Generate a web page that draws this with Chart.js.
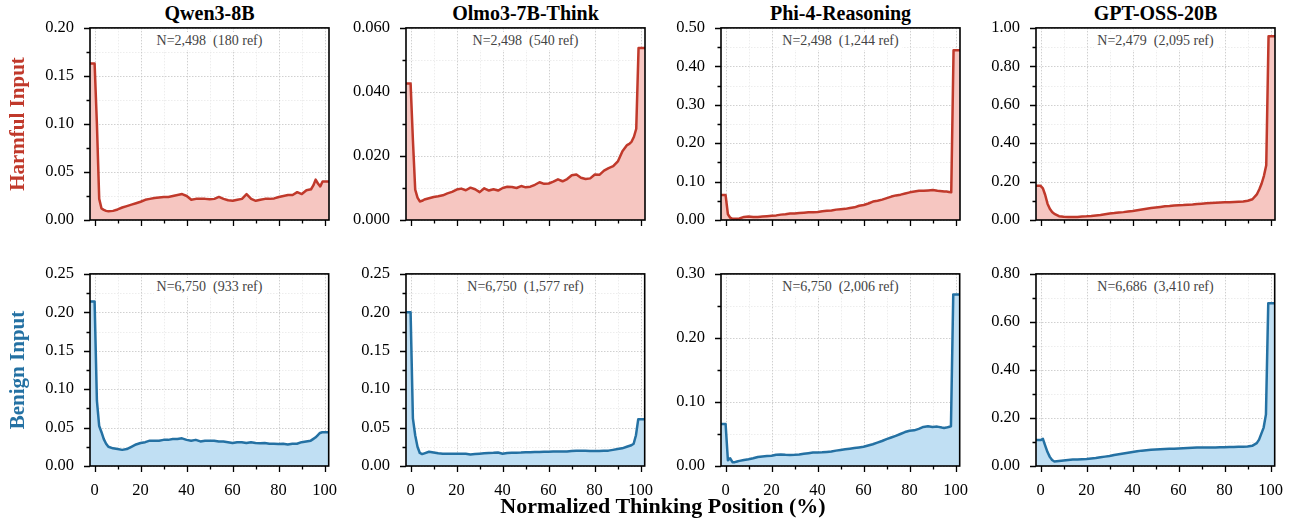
<!DOCTYPE html>
<html>
<head>
<meta charset="utf-8">
<script src="https://cdn.jsdelivr.net/npm/chart.js@4.4.1/dist/chart.umd.min.js"></script>
<style>
    body { margin: 0; width: 1290px; height: 520px; background: #fff; position: relative; overflow: hidden; font-family: "Liberation Serif", "DejaVu Serif", serif; }
    canvas { position: absolute; }
    .col-title { position: absolute; width: 239px; text-align: center; font-weight: bold; font-size: 20px; line-height: 24px; color: #000; }
    .row-label { position: absolute; font-weight: bold; font-size: 21px; white-space: nowrap; transform: translate(-50%, -50%) rotate(-90deg); }
    .note { position: absolute; width: 239px; text-align: center; font-size: 14px; line-height: 16px; color: #444; white-space: pre; }
    .note span { background: #fff; padding: 1px 3px 2px 3px; }
    .x-title { position: absolute; left: 0; width: 1326px; text-align: center; font-weight: bold; font-size: 22px; top: 493px; }
</style>
</head>
<body>
<script>
// 模型與標籤
const models = ['Qwen3-8B', 'Olmo3-7B-Think', 'Phi-4-Reasoning', 'GPT-OSS-20B'];
const rowLabels = ['Harmful Input', 'Benign Input'];
const harmfulNotes = ['N=2,498  (180 ref)', 'N=2,498  (540 ref)', 'N=2,498  (1,244 ref)', 'N=2,479  (2,095 ref)'];
const benignNotes = ['N=6,750  (933 ref)', 'N=6,750  (1,577 ref)', 'N=6,750  (2,006 ref)', 'N=6,686  (3,410 ref)'];
const xTitle = 'Normalized Thinking Position (%)';

// 位置 (%)
const positions = [-2, 0, 1, 2, 3, 4, 5, 6,
    8, 10, 12, 14, 16, 18, 20, 22, 24, 26, 28, 30, 32, 34, 36, 38,
    40, 42, 44, 46, 48, 50, 52, 54, 56, 58, 60, 62, 64, 66, 68, 70,
    72, 74, 76, 78, 80, 82, 84, 86, 88, 90, 92, 94,
    95, 96, 97, 98, 99, 100, 102];

// Harmful 數據
const qwenHarmful = [0.163, 0.163, 0.100, 0.022, 0.012, 0.0105, 0.0095, 0.009,
    0.0095, 0.011, 0.013, 0.0145, 0.016, 0.0175, 0.019, 0.021, 0.022, 0.023, 0.0235, 0.024, 0.024, 0.025, 0.026, 0.027,
    0.025, 0.021, 0.022, 0.022, 0.022, 0.0215, 0.022, 0.024, 0.022, 0.0205, 0.020, 0.021, 0.022, 0.027, 0.022, 0.020,
    0.021, 0.022, 0.022, 0.0225, 0.024, 0.025, 0.026, 0.026, 0.029, 0.027, 0.031, 0.032,
    0.036, 0.042, 0.038, 0.035, 0.040, 0.040, 0.040];
const olmoHarmful = [0.0426, 0.0426, 0.025, 0.0095, 0.0070, 0.0058, 0.0060, 0.0064,
    0.0068, 0.0072, 0.0074, 0.0077, 0.0083, 0.0088, 0.0095, 0.0098, 0.0093, 0.0101, 0.0096, 0.0087, 0.0099, 0.0092, 0.0096, 0.0092,
    0.0100, 0.0104, 0.0103, 0.0100, 0.0106, 0.0102, 0.0104, 0.0110, 0.0118, 0.0113, 0.0114, 0.0120, 0.0127, 0.0121, 0.0128, 0.0140,
    0.0142, 0.0132, 0.0128, 0.0130, 0.0142, 0.0141, 0.0154, 0.0162, 0.0168, 0.0183, 0.0215, 0.0234,
    0.0238, 0.0245, 0.0260, 0.0285, 0.0537, 0.0537, 0.0537];
const phiHarmful = [0.065, 0.065, 0.015, 0.006, 0.003, 0.003, 0.003, 0.004,
    0.008, 0.009, 0.008, 0.008, 0.009, 0.010, 0.011, 0.012, 0.014, 0.015, 0.017, 0.017, 0.018, 0.019, 0.020, 0.020,
    0.021, 0.023, 0.024, 0.025, 0.027, 0.028, 0.029, 0.031, 0.033, 0.037, 0.039, 0.043, 0.048, 0.050, 0.053, 0.057,
    0.061, 0.064, 0.066, 0.069, 0.072, 0.074, 0.076, 0.076, 0.077, 0.078, 0.076, 0.075,
    0.074, 0.074, 0.073, 0.072, 0.442, 0.442, 0.442];
const gptHarmful = [0.178, 0.178, 0.165, 0.130, 0.085, 0.058, 0.042, 0.032,
    0.020, 0.017, 0.015, 0.015, 0.016, 0.018, 0.019, 0.021, 0.024, 0.026, 0.030, 0.034, 0.036, 0.039, 0.041, 0.044,
    0.047, 0.051, 0.055, 0.059, 0.062, 0.065, 0.068, 0.071, 0.073, 0.076, 0.077, 0.078, 0.080, 0.081, 0.083, 0.085,
    0.087, 0.089, 0.090, 0.091, 0.092, 0.093, 0.094, 0.095, 0.096, 0.100, 0.108, 0.135,
    0.160, 0.190, 0.230, 0.285, 0.957, 0.957, 0.957];

// Benign 數據
const qwenBenign = [0.214, 0.214, 0.085, 0.052, 0.044, 0.035, 0.029, 0.025,
    0.023, 0.022, 0.021, 0.022, 0.025, 0.028, 0.030, 0.031, 0.033, 0.033, 0.033, 0.034, 0.034, 0.035, 0.035, 0.036,
    0.034, 0.033, 0.034, 0.032, 0.033, 0.033, 0.033, 0.032, 0.032, 0.031, 0.030, 0.031, 0.031, 0.030, 0.031, 0.030,
    0.0295, 0.030, 0.029, 0.029, 0.0285, 0.029, 0.028, 0.029, 0.029, 0.031, 0.032, 0.033,
    0.035, 0.037, 0.040, 0.043, 0.044, 0.044, 0.044];
const olmoBenign = [0.200, 0.200, 0.062, 0.040, 0.025, 0.017, 0.0155, 0.0165,
    0.0185, 0.0175, 0.0165, 0.016, 0.0158, 0.016, 0.0158, 0.016, 0.0158, 0.015, 0.0155, 0.016, 0.0165, 0.017, 0.0172, 0.0176,
    0.016, 0.017, 0.0172, 0.0174, 0.0175, 0.0178, 0.018, 0.0182, 0.0183, 0.0185, 0.0187, 0.0188, 0.019, 0.019, 0.019, 0.0195,
    0.020, 0.020, 0.0198, 0.0195, 0.0195, 0.0195, 0.0197, 0.020, 0.021, 0.022, 0.023, 0.025,
    0.026, 0.027, 0.029, 0.040, 0.061, 0.061, 0.061];
const phiBenign = [0.0656, 0.0656, 0.009, 0.012, 0.006, 0.006, 0.007, 0.008,
    0.0095, 0.0105, 0.012, 0.014, 0.015, 0.0156, 0.016, 0.0175, 0.018, 0.0175, 0.0172, 0.0175, 0.018, 0.019, 0.020, 0.021,
    0.021, 0.0213, 0.022, 0.0225, 0.024, 0.025, 0.026, 0.027, 0.028, 0.029, 0.030, 0.032, 0.034, 0.0365, 0.039, 0.042,
    0.0445, 0.047, 0.050, 0.053, 0.055, 0.0557, 0.058, 0.061, 0.062, 0.061, 0.0615, 0.060,
    0.0595, 0.060, 0.061, 0.062, 0.268, 0.268, 0.268];
const gptBenign = [0.108, 0.108, 0.113, 0.085, 0.058, 0.038, 0.025, 0.019,
    0.021, 0.023, 0.025, 0.027, 0.027, 0.028, 0.029, 0.031, 0.033, 0.036, 0.039, 0.042, 0.046, 0.049, 0.052, 0.055,
    0.058, 0.061, 0.064, 0.066, 0.068, 0.069, 0.070, 0.071, 0.072, 0.072, 0.073, 0.074, 0.075, 0.076, 0.077, 0.077,
    0.077, 0.077, 0.077, 0.078, 0.078, 0.079, 0.079, 0.080, 0.080, 0.081, 0.084, 0.095,
    0.110, 0.135, 0.160, 0.215, 0.678, 0.678, 0.678];

// 刻度
const xTicks = [0, 20, 40, 60, 80, 100];
const xMinorTicks = [10, 30, 50, 70, 90];
const harmfulYTicks = [
    ['0.00', '0.05', '0.10', '0.15', '0.20'],
    ['0.000', '0.020', '0.040', '0.060'],
    ['0.00', '0.10', '0.20', '0.30', '0.40', '0.50'],
    ['0.00', '0.20', '0.40', '0.60', '0.80', '1.00']
];
const benignYTicks = [
    ['0.00', '0.05', '0.10', '0.15', '0.20', '0.25'],
    ['0.00', '0.05', '0.10', '0.15', '0.20', '0.25'],
    ['0.00', '0.10', '0.20', '0.30'],
    ['0.00', '0.20', '0.40', '0.60', '0.80']
];

const harmfulSeries = [qwenHarmful, olmoHarmful, phiHarmful, gptHarmful];
const benignSeries = [qwenBenign, olmoBenign, phiBenign, gptBenign];

// 版面
const colLeft = [90, 406, 721, 1036];
const rowTop = [28, 274];
const plotW = 239, plotH = 192;
const FONT = '"Liberation Serif", "DejaVu Serif", serif';
const rowStyles = [
    { line: '#c0392b', fill: '#f6c6c1' },
    { line: '#2471a3', fill: '#c0dff3' }
];

// 框線、網格、刻度線
const framePlugin = {
    id: 'frame',
    beforeDatasetsDraw(chart, args, opts) {
        const { ctx, chartArea: a, scales: { x, y } } = chart;
        ctx.save();
        ctx.lineWidth = 0.8;
        ctx.setLineDash([1.5, 1.5]);
        const vline = (v, c) => {
            const px = Math.round(x.getPixelForValue(v)) + 0.5;
            ctx.strokeStyle = c; ctx.beginPath(); ctx.moveTo(px, a.top); ctx.lineTo(px, a.bottom); ctx.stroke();
        };
        const hline = (v, c) => {
            const py = Math.round(y.getPixelForValue(v)) + 0.5;
            ctx.strokeStyle = c; ctx.beginPath(); ctx.moveTo(a.left, py); ctx.lineTo(a.right, py); ctx.stroke();
        };
        xMinorTicks.forEach(v => vline(v, '#e8e8e8'));
        opts.yMinor.forEach(v => hline(v, '#e8e8e8'));
        xTicks.forEach(v => vline(v, '#c4c4c4'));
        opts.yMajor.forEach(v => hline(v, '#c4c4c4'));
        ctx.restore();
    },
    afterDraw(chart, args, opts) {
        const { ctx, chartArea: a, scales: { x, y } } = chart;
        ctx.save();
        ctx.strokeStyle = '#000';
        ctx.lineWidth = 1.6;
        ctx.strokeRect(a.left, a.top, a.right - a.left, a.bottom - a.top);
        ctx.lineWidth = 1.3;
        ctx.beginPath();
        const xt = (v, len) => { const px = Math.round(x.getPixelForValue(v)) + 0.5; ctx.moveTo(px, a.bottom); ctx.lineTo(px, a.bottom + len); };
        const yt = (v, len) => { const py = Math.round(y.getPixelForValue(v)) + 0.5; ctx.moveTo(a.left, py); ctx.lineTo(a.left - len, py); };
        xTicks.forEach(v => xt(v, 6));
        xMinorTicks.forEach(v => xt(v, 3.5));
        opts.yMajor.forEach(v => yt(v, 6));
        opts.yMinor.forEach(v => yt(v, 3.5));
        ctx.stroke();
        ctx.restore();
    }
};

function addDiv(cls, text, style) {
    const d = document.createElement('div');
    d.className = cls;
    d.textContent = text;
    Object.assign(d.style, style);
    document.body.appendChild(d);
    return d;
}

function panelConfig(row, col) {
    const labels = row === 0 ? harmfulYTicks[col] : benignYTicks[col];
    const series = row === 0 ? harmfulSeries[col] : benignSeries[col];
    const yMajor = labels.map(s => parseFloat(s));
    const yMinor = yMajor.slice(1).map((v, i) => (v + yMajor[i]) / 2);
    const style = rowStyles[row];

    return {
        type: 'line',
        data: {
            datasets: [{
                data: positions.map((p, i) => ({ x: p, y: series[i] })),
                borderColor: style.line,
                backgroundColor: style.fill,
                borderWidth: 2.5,
                borderJoinStyle: 'round',
                pointRadius: 0,
                tension: 0,
                fill: 'origin'
            }]
        },
        options: {
            responsive: false,
            animation: false,
            devicePixelRatio: 1,
            layout: { padding: { top: 4, right: 4, left: 0, bottom: 0 } },
            plugins: {
                legend: { display: false },
                tooltip: { enabled: false },
                frame: { yMajor, yMinor }
            },
            scales: {
                x: {
                    type: 'linear',
                    min: -2,
                    max: 101.8,
                    grid: { display: false, drawTicks: false },
                    border: { display: false },
                    afterBuildTicks: axis => { axis.ticks = xTicks.map(v => ({ value: v })); },
                    afterFit: axis => { axis.height = 34; },
                    ticks: {
                        display: row === 1,
                        color: '#000',
                        padding: 15,
                        maxRotation: 0,
                        font: { family: FONT, size: 16.5 },
                        callback: v => String(v)
                    }
                },
                y: {
                    type: 'linear',
                    min: yMajor[0],
                    max: yMajor[yMajor.length - 1],
                    grid: { display: false, drawTicks: false },
                    border: { display: false },
                    afterBuildTicks: axis => { axis.ticks = yMajor.map(v => ({ value: v })); },
                    afterFit: axis => { axis.width = 62; },
                    ticks: {
                        color: '#000',
                        padding: 16,
                        font: { family: FONT, size: 16.5 },
                        callback: (v, i) => labels[i]
                    }
                }
            }
        },
        plugins: [framePlugin]
    };
}

function makePanel(row, col) {
    const canvas = document.createElement('canvas');
    canvas.width = 62 + plotW + 20;
    canvas.height = 20 + plotH + 34;
    document.body.appendChild(canvas);

    // 先量出繪圖區的邊距，再把畫布調整到參考圖的繪圖區大小
    let chart = new Chart(canvas.getContext('2d'), panelConfig(row, col));
    const ca = chart.chartArea;
    const L = ca.left, T = ca.top;
    const R = canvas.width - ca.right, B = canvas.height - ca.bottom;
    chart.destroy();
    canvas.width = Math.round(L + plotW + R);
    canvas.height = Math.round(T + plotH + B);
    canvas.style.left = (colLeft[col] - L) + 'px';
    canvas.style.top = (rowTop[row] - T) + 'px';
    chart = new Chart(canvas.getContext('2d'), panelConfig(row, col));

    // 標註 (白底)
    const notes = row === 0 ? harmfulNotes : benignNotes;
    const d = addDiv('note', '', { left: colLeft[col] + 'px', top: (rowTop[row] + 5) + 'px' });
    const s = document.createElement('span');
    s.textContent = notes[col];
    d.appendChild(s);
}

document.addEventListener('DOMContentLoaded', function() {
    models.forEach((m, c) => {
        addDiv('col-title', m, { left: colLeft[c] + 'px', top: '1px' });
        makePanel(0, c);
        makePanel(1, c);
    });
    rowLabels.forEach((t, r) => {
        addDiv('row-label', t, { left: '17px', top: (rowTop[r] + plotH / 2) + 'px', color: rowStyles[r].line });
    });
    addDiv('x-title', xTitle, {});
});
</script>
</body>
</html>
